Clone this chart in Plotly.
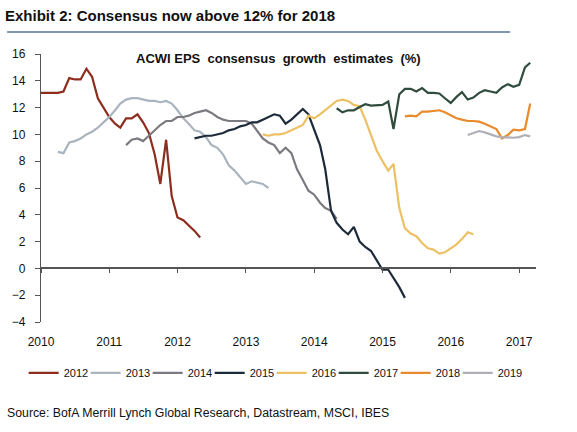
import pandas as pd
import plotly.graph_objects as go

# ---- data (monthly consensus EPS growth estimates, %) ----
series_names = ["2012", "2013", "2014", "2015", "2016", "2017", "2018", "2019"]
series_start = ["2010-01-01", "2010-04-01", "2011-04-01", "2012-04-01",
                "2013-04-01", "2014-05-01", "2015-05-01", "2016-04-01"]

v2012 = [13.1, 13.1, 13.1, 13.1, 13.2, 14.2, 14.1, 14.1, 14.9, 14.3, 12.7, 12.0, 11.3,
         10.8, 10.5, 11.2, 11.2, 11.5, 10.9, 10.1, 8.5, 6.3, 9.6, 5.4, 3.8, 3.6, 3.2,
         2.8, 2.3]
v2013 = [8.7, 8.6, 9.4, 9.5, 9.7, 10.0, 10.2, 10.5, 10.9, 11.3, 11.8, 12.3, 12.6, 12.7,
         12.7, 12.6, 12.5, 12.5, 12.4, 12.5, 12.3, 11.8, 11.2, 10.8, 10.3, 10.2, 9.8,
         9.2, 9.0, 8.5, 7.7, 7.3, 6.8, 6.3, 6.5, 6.4, 6.3, 6.0]
v2014 = [9.2, 9.6, 9.7, 9.5, 9.9, 10.3, 10.7, 11.0, 11.0, 11.3, 11.3, 11.4, 11.6, 11.7,
         11.8, 11.6, 11.3, 11.1, 11.0, 11.0, 11.0, 11.0, 10.8, 10.3, 9.7, 9.4, 9.2,
         8.6, 9.0, 8.6, 7.4, 6.6, 5.8, 5.5, 4.9, 4.5, 4.3, 3.7]
v2015 = [9.7, 9.8, 9.9, 9.9, 10.0, 10.1, 10.3, 10.4, 10.6, 10.7, 10.9, 10.9, 11.1,
         11.3, 11.5, 11.4, 10.8, 11.1, 11.5, 11.9, 11.5, 10.4, 9.2, 7.4, 4.3, 3.4, 2.9,
         2.55, 3.1, 2.0, 1.6, 1.3, 0.6, -0.1, -0.1, -0.7, -1.4, -2.2]
v2016 = [10.0, 9.9, 10.0, 10.0, 10.1, 10.3, 10.5, 10.7, 11.4, 11.2, 11.5, 11.8, 12.2,
         12.5, 12.6, 12.5, 12.2, 12.1, 11.1, 10.0, 8.8, 8.0, 7.3, 7.8, 4.5, 3.0, 2.6,
         2.4, 1.9, 1.5, 1.4, 1.1, 1.2, 1.5, 1.8, 2.2, 2.7, 2.55]
v2017 = [11.95, 11.65, 11.8, 11.8, 12.05, 12.25, 12.15, 12.15, 12.2, 12.45, 10.4, 13.0,
         13.4, 13.4, 13.2, 13.45, 13.1, 13.1, 13.05, 12.7, 12.35, 12.8, 13.15, 12.6,
         12.75, 13.1, 13.3, 13.2, 13.1, 13.5, 13.75, 13.55, 13.7, 15.0, 15.35]
v2018 = [11.35, 11.4, 11.35, 11.7, 11.7, 11.75, 11.8, 11.65, 11.45, 11.2, 11.1, 11.0,
         11.0, 10.95, 10.8, 10.6, 10.4, 9.7, 9.95, 10.35, 10.3, 10.4, 12.3]
v2019 = [9.95, 10.1, 10.25, 10.15, 10.0, 9.85, 9.8, 9.75, 9.75, 9.8, 9.95, 9.85]

series_values = [v2012, v2013, v2014, v2015, v2016, v2017, v2018, v2019]
series_colors = ["#8C2D1E", "#A9B4BE", "#7C7A80", "#1D2A3A",
                 "#EDC063", "#2F4C3E", "#E98A2C", "#AFAFB7"]

year_ticks = ["2010", "2011", "2012", "2013", "2014", "2015", "2016", "2017"]
x_range = ["2010-01-01", "2017-04-01"]
y_ticks = [-4, -2, 0, 2, 4, 6, 8, 10, 12, 14, 16]

FONT = "Liberation Sans, Arial, sans-serif"

fig = go.Figure()
n = len(series_names)
for i, (name, start, vals, col) in enumerate(zip(series_names, series_start,
                                                  series_values, series_colors)):
    dates = pd.date_range(start, periods=len(vals), freq="MS")
    fig.add_trace(go.Scatter(x=dates, y=vals, mode="lines", name=name,
                             line=dict(color=col, width=2.2),
                             legendwidth=(30 if i == n - 1 else None)))

# axis line at zero with year ticks
fig.add_trace(go.Scatter(x=[], y=[], xaxis="x2", showlegend=False, hoverinfo="skip"))

fig.update_layout(
    width=577, height=432,
    margin=dict(l=39, r=41, t=54, b=110),
    paper_bgcolor="white", plot_bgcolor="white",
    font=dict(family=FONT, color="#111111", size=12),
    title=dict(text="<b>Exhibit 2: Consensus now above 12% for 2018</b>",
               x=5 / 577, xanchor="left", xref="container",
               y=1 - 16 / 432, yanchor="middle", yref="container",
               font=dict(family=FONT, size=15, color="#111111")),
    xaxis=dict(type="date", range=x_range,
               tickvals=[y + "-01-01" for y in year_ticks], ticktext=year_ticks,
               showline=False, showgrid=False, zeroline=False, ticks="",
               ticklabelstandoff=11,
               tickfont=dict(family=FONT, size=12, color="#111111")),
    xaxis2=dict(type="date", range=x_range, overlaying="x", anchor="free",
                position=0.2, side="bottom",
                tickvals=[y + "-01-01" for y in year_ticks],
                showticklabels=False, showgrid=False, zeroline=False,
                showline=True, linecolor="#555555", linewidth=1.6,
                ticks="outside", ticklen=4, tickcolor="#555555", tickwidth=1.2),
    yaxis=dict(range=[-4, 16], tickvals=y_ticks, showgrid=False, zeroline=False,
               showline=True, linecolor="#555555", linewidth=1.4,
               ticks="outside", ticklen=5, tickcolor="#555555", tickwidth=1.2,
               ticklabelstandoff=7,
               tickfont=dict(family=FONT, size=12, color="#111111")),
    legend=dict(orientation="h", x=-0.035, xanchor="left", y=-0.19, yanchor="middle",
                font=dict(family=FONT, size=11, color="#111111"),
                entrywidth=17, itemwidth=30, bgcolor="rgba(0,0,0,0)"),
    showlegend=True,
    shapes=[dict(type="line", xref="paper", yref="paper",
                 x0=(5 - 39) / 497, x1=(510 - 39) / 497,
                 y0=(322 - 32) / 268, y1=(322 - 32) / 268,
                 line=dict(color="#8097B5", width=2))],
    annotations=[
        dict(text="<b>ACWI EPS  consensus  growth  estimates  (%)</b>",
             xref="paper", yref="paper", x=(277 - 39) / 497, y=(322 - 58) / 268,
             xanchor="center", yanchor="middle", showarrow=False,
             font=dict(family=FONT, size=13, color="#111111")),
        dict(text="Source: BofA Merrill Lynch Global Research, Datastream, MSCI, IBES",
             xref="paper", yref="paper", x=(3 - 39) / 497, y=(322 - 413) / 268,
             xanchor="left", yanchor="middle", showarrow=False,
             font=dict(family=FONT, size=12.3, color="#111111")),
    ],
)

fig.write_html("out.html", config={"displayModeBar": False},
               post_script="document.body.style.margin='0';")
